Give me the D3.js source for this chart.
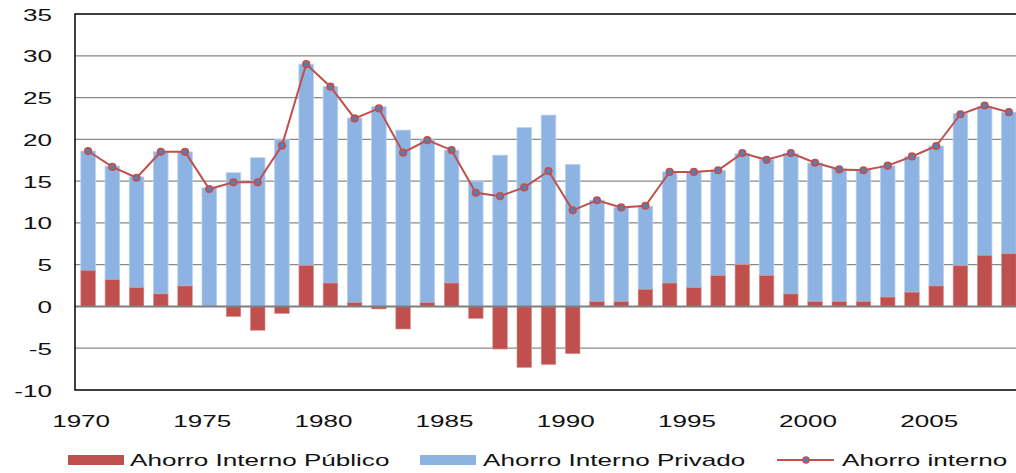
<!DOCTYPE html>
<html>
<head>
<meta charset="utf-8">
<script src="https://cdnjs.cloudflare.com/ajax/libs/d3/7.8.5/d3.min.js"></script>
<style>
	body { margin:0; background:#fff; }
	svg text { font-family:"Liberation Sans", Arial, sans-serif; fill:#111; }
</style>
</head>
<body>
<div class="chart"></div>
<script>

// data
var years = d3.range(1970, 2009);
var publico = [4.3,3.2,2.25,1.5,2.45,0,-1.2,-2.85,-0.83,4.9,
	2.8,0.45,-0.3,-2.7,0.45,2.8,-1.43,-5.1,-7.3,-6.95,
	-5.65,0.57,0.57,2.05,2.8,2.25,3.7,5.0,3.7,1.5,
	0.57,0.57,0.57,1.12,1.7,2.45,4.87,6.1,6.3];
var privado = [14.3,13.6,13.25,17.0,16.05,14.2,16.0,17.8,20.0,24.1,
	23.5,22.1,23.9,21.1,19.5,15.9,15.0,18.1,21.4,22.9,
	17.0,12.15,11.3,9.95,13.3,13.85,12.6,13.3,13.9,16.8,
	16.6,15.9,15.8,15.7,16.25,16.75,18.2,17.85,16.95];
var interno = [18.6,16.7,15.4,18.5,18.5,14.05,14.85,14.85,19.25,29.0,
	26.3,22.5,23.7,18.4,19.9,18.7,13.6,13.2,14.25,16.2,
	11.5,12.7,11.85,12.05,16.1,16.1,16.3,18.35,17.55,18.35,
	17.2,16.4,16.3,16.85,17.95,19.2,23.0,24.05,23.25];
var yTicks = [-10,-5,0,5,10,15,20,25,30,35];
var xLabels = [1970,1975,1980,1985,1990,1995,2000,2005];
var legendNames = ["Ahorro Interno Público", "Ahorro Interno Privado", "Ahorro interno"];

var W = 1016, H = 473;
var plotLeft = 75, plotTop = 14, plotBottom = 390;
var red = "#C0504D", blue = "#8DB3E2";
var stretch = 1.63;

var svg = d3.select(".chart").append("svg")
	.attr("width", W).attr("height", H)
	;

var x = d3.scaleBand()
	.domain(years)
	.range([76, 1021])
	.paddingInner(0.4)
	.paddingOuter(0.2)
	;
var y = d3.scaleLinear()
	.domain([-10, 35])
	.range([plotBottom, plotTop])
	;

// wide text, like the stretched excel export
function wideText(g, str, px, py, anchor){
	return g.append("text")
		.attr("transform", "translate(" + px + "," + py + ") scale(" + stretch + ",1)")
		.attr("text-anchor", anchor)
		.style("font-size", "16px")
		.text(str)
		;
}

// gridlines
svg.append("g").selectAll("line")
	.data(yTicks.filter(function(d){ return d != 0 && d != 35 && d != -10; }))
	.join("line")
	.attr("x1", plotLeft).attr("x2", W)
	.attr("y1", function(d){ return y(d); })
	.attr("y2", function(d){ return y(d); })
	.attr("stroke", "#8a8a8a")
	.attr("stroke-width", 1.2)
	;

// y labels
var yl = svg.append("g");
yTicks.forEach(function(t){
	wideText(yl, t, 52, y(t) + 6.5, "end");
});

// bars: public from zero, private stacked on top of positive public
var bars = svg.append("g");
years.forEach(function(yr, i){
	var p = publico[i];
	var base = p > 0 ? p : 0;
	bars.append("rect")
		.attr("x", x(yr)).attr("width", x.bandwidth())
		.attr("y", y(base + privado[i]))
		.attr("height", y(base) - y(base + privado[i]))
		.attr("fill", blue)
		.attr("stroke", "#b8cfee").attr("stroke-width", 0.8)
		;
	if(p != 0){
		bars.append("rect")
			.attr("x", x(yr)).attr("width", x.bandwidth())
			.attr("y", y(Math.max(p, 0)))
			.attr("height", Math.abs(y(p) - y(0)))
			.attr("fill", red)
			.attr("stroke", "#d98e8c").attr("stroke-width", 0.6)
			;
	}
});

// zero line over the bars
svg.append("line")
	.attr("x1", plotLeft).attr("x2", W)
	.attr("y1", y(0)).attr("y2", y(0))
	.attr("stroke", "#7f7f7f").attr("stroke-width", 2)
	;

// frame: top, left, bottom
svg.append("path")
	.attr("d", "M" + W + "," + y(35) + "H" + plotLeft + "V" + y(-10) + "H" + W)
	.attr("fill", "none")
	.attr("stroke", "#000")
	.attr("stroke-width", 1.5)
	;

// total line
var cx = function(d, i){ return x(years[i]) + x.bandwidth() / 2; };
svg.append("path")
	.datum(interno)
	.attr("d", d3.line().x(cx).y(function(d){ return y(d); }))
	.attr("fill", "none")
	.attr("stroke", red)
	.attr("stroke-width", 2)
	;
svg.append("g").selectAll("circle")
	.data(interno)
	.join("circle")
	.attr("cx", cx)
	.attr("cy", function(d){ return y(d); })
	.attr("r", 3.2)
	.attr("fill", "#4F81BD")
	.attr("stroke", red)
	.attr("stroke-width", 1.8)
	;

// x labels (excel puts them a bit left of the bar)
var xl = svg.append("g");
xLabels.forEach(function(yr){
	wideText(xl, yr, x(yr) + x.bandwidth() / 2 - 7, 427, "middle");
});

// legend
var lg = svg.append("g");
lg.append("rect").attr("x", 68).attr("y", 455).attr("width", 56).attr("height", 10).attr("fill", red);
wideText(lg, legendNames[0], 130, 466, "start");
lg.append("rect").attr("x", 420).attr("y", 455).attr("width", 56).attr("height", 10).attr("fill", blue);
wideText(lg, legendNames[1], 483, 466, "start");
lg.append("line")
	.attr("x1", 777).attr("x2", 834).attr("y1", 460).attr("y2", 460)
	.attr("stroke", red).attr("stroke-width", 2)
	;
lg.append("circle")
	.attr("cx", 806).attr("cy", 460).attr("r", 3)
	.attr("fill", "#4F81BD").attr("stroke", red).attr("stroke-width", 1.5)
	;
wideText(lg, legendNames[2], 842, 466, "start");

</script>
</body>
</html>
